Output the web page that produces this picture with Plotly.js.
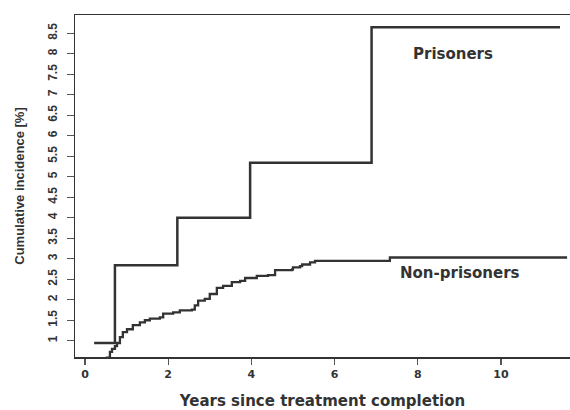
<!DOCTYPE html>
<html>
<head>
<meta charset="utf-8">
<script src="https://cdn.plot.ly/plotly-3.0.1.min.js"></script>
<style>html,body{margin:0;padding:0;background:#fff;}#chart{width:570px;height:410px;}</style>
</head>
<body>
<div id="chart"></div>
<script>
// Prisoners cumulative incidence (step function)
const prisonersYears = [0.22, 0.72, 2.22, 3.97, 6.89, 11.42];
const prisonersIncidence = [0.945, 2.84, 4.0, 5.34, 8.65, 8.65];

// Non-prisoners cumulative incidence (step function)
const nonPrisonersYears = [0.50, 0.60, 0.65, 0.72, 0.77, 0.84, 0.91, 1.01, 1.15, 1.32, 1.44, 1.56, 1.80, 1.88, 2.12, 2.28, 2.57, 2.64, 2.72, 2.88, 3.00, 3.17, 3.32, 3.53, 3.73, 3.85, 4.13, 4.40, 4.57, 4.98, 5.00, 5.17, 5.22, 5.41, 5.53, 7.33, 11.59];
const nonPrisonersIncidence = [0.585, 0.73, 0.80, 0.87, 0.945, 1.09, 1.21, 1.28, 1.38, 1.45, 1.50, 1.54, 1.57, 1.66, 1.69, 1.74, 1.76, 1.86, 1.98, 2.02, 2.14, 2.29, 2.34, 2.43, 2.46, 2.53, 2.58, 2.60, 2.72, 2.74, 2.79, 2.82, 2.86, 2.91, 2.95, 3.03, 3.03];

const xTicks = [0, 2, 4, 6, 8, 10];
const yTicks = [1, 1.5, 2, 2.5, 3, 3.5, 4, 4.5, 5, 5.5, 6, 6.5, 7, 7.5, 8, 8.5];

const labelPrisoners = {text: 'Prisoners', x: 8.85, y: 8.0};
const labelNonPrisoners = {text: 'Non-prisoners', x: 9.01, y: 2.65};

const lineColor = '#333333';
const fontFam = 'Liberation Sans, Arial, sans-serif';
const wideFam = 'DejaVu Sans, Liberation Sans, sans-serif';

const traces = [
  {x: prisonersYears, y: prisonersIncidence, mode: 'lines', line: {shape: 'hv', color: lineColor, width: 2.5}, name: 'Prisoners', hoverinfo: 'x+y'},
  {x: nonPrisonersYears, y: nonPrisonersIncidence, mode: 'lines', line: {shape: 'hv', color: lineColor, width: 2.3}, name: 'Non-prisoners', hoverinfo: 'x+y'}
];

const layout = {
  width: 570, height: 410,
  margin: {l: 75, r: 0, t: 15, b: 53},
  paper_bgcolor: '#ffffff', plot_bgcolor: '#ffffff',
  showlegend: false,
  font: {family: fontFam, color: '#333333'},
  xaxis: {
    range: [-0.24, 11.66], tickvals: xTicks, ticktext: xTicks.map(String),
    showgrid: false, zeroline: false, showline: true, linecolor: lineColor, linewidth: 1.5, mirror: true,
    ticks: 'outside', ticklen: 6, tickwidth: 1.2, tickcolor: '#555',
    tickfont: {size: 11, family: wideFam, weight: 'bold', color: '#333'},
    title: {text: 'Years since treatment completion', font: {size: 15, family: wideFam, weight: 'bold', color: '#333'}, standoff: 26}
  },
  yaxis: {
    range: [0.603, 8.946], tickvals: yTicks, ticktext: yTicks.map(String),
    showgrid: false, zeroline: false, showline: true, linecolor: lineColor, linewidth: 1.5,
    ticks: 'outside', ticklen: 7, tickwidth: 1.2, tickcolor: '#555', tickangle: -90,
    ticklabelstandoff: 5,
    tickfont: {size: 12, family: fontFam, weight: 'bold', color: '#333'},
    title: {text: 'Cumulative incidence [%]', font: {size: 13, family: fontFam, weight: 'bold', color: '#333'}, standoff: 18}
  },
  annotations: [labelPrisoners, labelNonPrisoners].map(a => ({
    text: a.text, x: a.x, y: a.y, xref: 'x', yref: 'y', showarrow: false,
    font: {size: 15, family: wideFam, weight: 'bold', color: '#333'}
  }))
};

Plotly.newPlot('chart', traces, layout, {displayModeBar: false, staticPlot: true});
</script>
</body>
</html>
